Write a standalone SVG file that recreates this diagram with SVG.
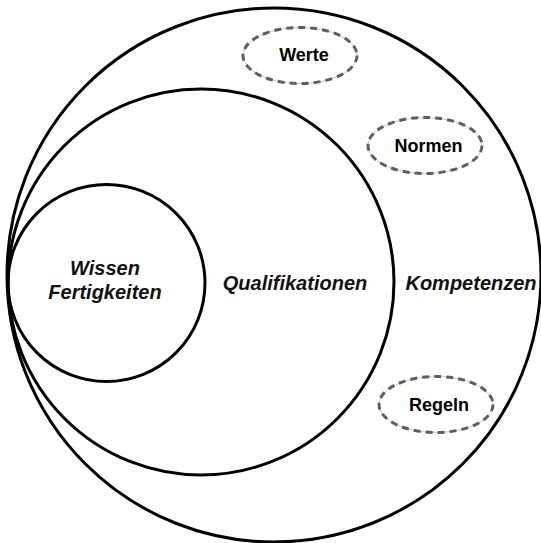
<svg xmlns="http://www.w3.org/2000/svg" width="541" height="543" viewBox="0 0 541 543">
  <style>
    .ring { fill: none; stroke: #000; stroke-width: 3; }
    .tag-base { fill: none; stroke: #c8c8c8; stroke-width: 1; }
    .tag-dash { fill: none; stroke: #5f5f5f; stroke-width: 3; stroke-dasharray: 7 5; }
    .big { font-family: "Liberation Sans", Arial, sans-serif; font-size: 20px; font-weight: bold; font-style: italic; fill: #111; text-anchor: middle; }
    .tag { font-family: "Liberation Sans", Arial, sans-serif; font-size: 18px; font-weight: bold; fill: #000; text-anchor: middle; }
  </style>
  <rect width="541" height="543" fill="#fff"/>

  <g id="kompetenzen">
    <circle class="ring" cx="274" cy="275" r="267"/>
    <text class="big" x="471" y="290">Kompetenzen</text>
  </g>

  <g id="qualifikationen">
    <circle class="ring" cx="201" cy="282" r="193"/>
    <text class="big" x="295" y="290">Qualifikationen</text>
  </g>

  <g id="wissen">
    <circle class="ring" cx="106.5" cy="283" r="98.5"/>
    <text class="big" x="105" y="275">Wissen</text>
    <text class="big" x="105" y="299">Fertigkeiten</text>
  </g>

  <g id="werte">
    <ellipse class="tag-base" cx="300" cy="55.5" rx="57" ry="28"/>
    <ellipse class="tag-dash" cx="300" cy="55.5" rx="57" ry="28"/>
    <text class="tag" x="304" y="61">Werte</text>
  </g>

  <g id="normen">
    <ellipse class="tag-base" cx="425" cy="145.5" rx="57" ry="28"/>
    <ellipse class="tag-dash" cx="425" cy="145.5" rx="57" ry="28"/>
    <text class="tag" x="428.5" y="152">Normen</text>
  </g>

  <g id="regeln">
    <ellipse class="tag-base" cx="436" cy="404.5" rx="57" ry="28"/>
    <ellipse class="tag-dash" cx="436" cy="404.5" rx="57" ry="28"/>
    <text class="tag" x="439" y="410.5">Regeln</text>
  </g>

  <g id="connectors"></g>
</svg>
